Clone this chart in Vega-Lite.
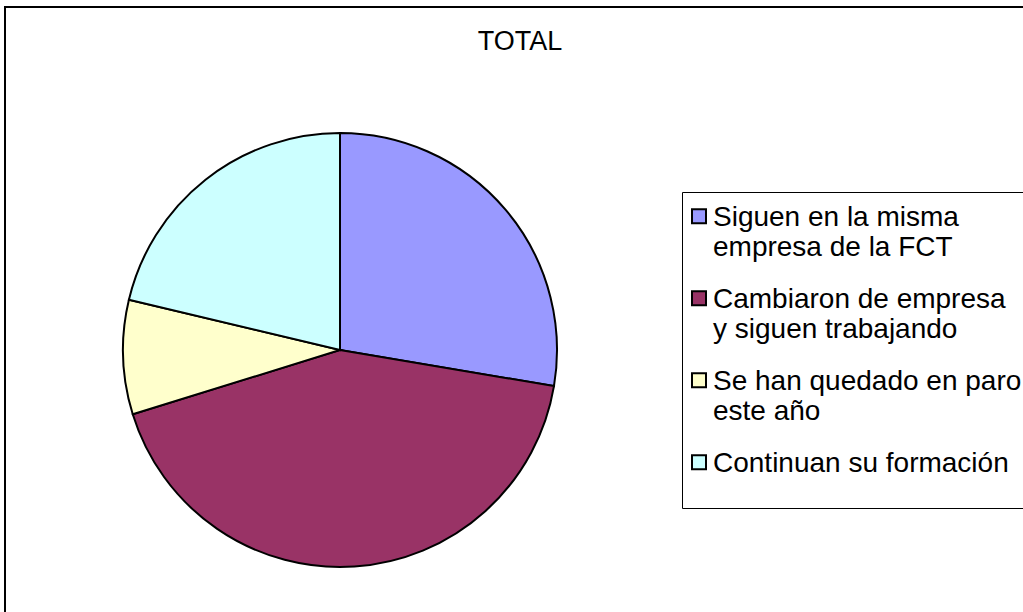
{
  "$schema": "https://vega.github.io/schema/vega-lite/v6.json",
  "width": 1030,
  "height": 608,
  "autosize": {"type": "none"},
  "padding": {"left": 5, "top": 7, "right": 0, "bottom": 0},
  "background": "white",
  "view": {"stroke": "black", "strokeWidth": 2, "fill": "white"},
  "config": {"font": "Liberation Sans"},
  "title": {"text": "TOTAL", "fontSize": 27, "font": "Liberation Sans", "fontWeight": "normal", "color": "black", "anchor": "middle", "frame": "group", "baseline": "alphabetic", "offset": -70},
  "data": {"values": [
    {"situacion": "Siguen en la misma empresa de la FCT", "valor": 13, "orden": 1},
    {"situacion": "Cambiaron de empresa y siguen trabajando", "valor": 20, "orden": 2},
    {"situacion": "Se han quedado en paro este año", "valor": 4, "orden": 3},
    {"situacion": "Continuan su formación", "valor": 10, "orden": 4}
  ]},
  "mark": {"type": "arc", "outerRadius": 217, "stroke": "black", "strokeWidth": 2, "xOffset": -180, "yOffset": 39},
  "encoding": {
    "theta": {"field": "valor", "type": "quantitative", "stack": true},
    "order": {"field": "orden", "type": "quantitative"},
    "color": {
      "field": "situacion",
      "type": "nominal",
      "sort": ["Siguen en la misma empresa de la FCT", "Cambiaron de empresa y siguen trabajando", "Se han quedado en paro este año", "Continuan su formación"],
      "scale": {
        "domain": ["Siguen en la misma empresa de la FCT", "Cambiaron de empresa y siguen trabajando", "Se han quedado en paro este año", "Continuan su formación"],
        "range": ["#9999FF", "#993366", "#FFFFCC", "#CCFFFF"]
      },
      "legend": {
        "title": " ",
        "titleOrient": "bottom",
        "titleFontSize": 7,
        "titlePadding": 3,
        "orient": "none",
        "legendX": 677,
        "legendY": 185,
        "direction": "vertical",
        "padding": 20,
        "strokeColor": "black",
        "fillColor": "white",
        "symbolType": "M -1 -2.4 H 1 V -0.4 H -1 Z",
        "symbolSize": 196,
        "symbolStrokeColor": "black",
        "symbolStrokeWidth": 2,
        "symbolOpacity": 1,
        "symbolOffset": -17,
        "labelFont": "Liberation Sans",
        "labelFontSize": 28,
        "labelColor": "black",
        "labelLimit": 500,
        "labelOffset": 0,
        "labelBaseline": "alphabetic",
        "rowPadding": 24,
        "labelExpr": "datum.label == 'Siguen en la misma empresa de la FCT' ? ['Siguen en la misma', 'empresa de la FCT'] : datum.label == 'Cambiaron de empresa y siguen trabajando' ? ['Cambiaron de empresa', 'y siguen trabajando'] : datum.label == 'Se han quedado en paro este año' ? ['Se han quedado en paro', 'este año'] : datum.label"
      }
    }
  }
}
